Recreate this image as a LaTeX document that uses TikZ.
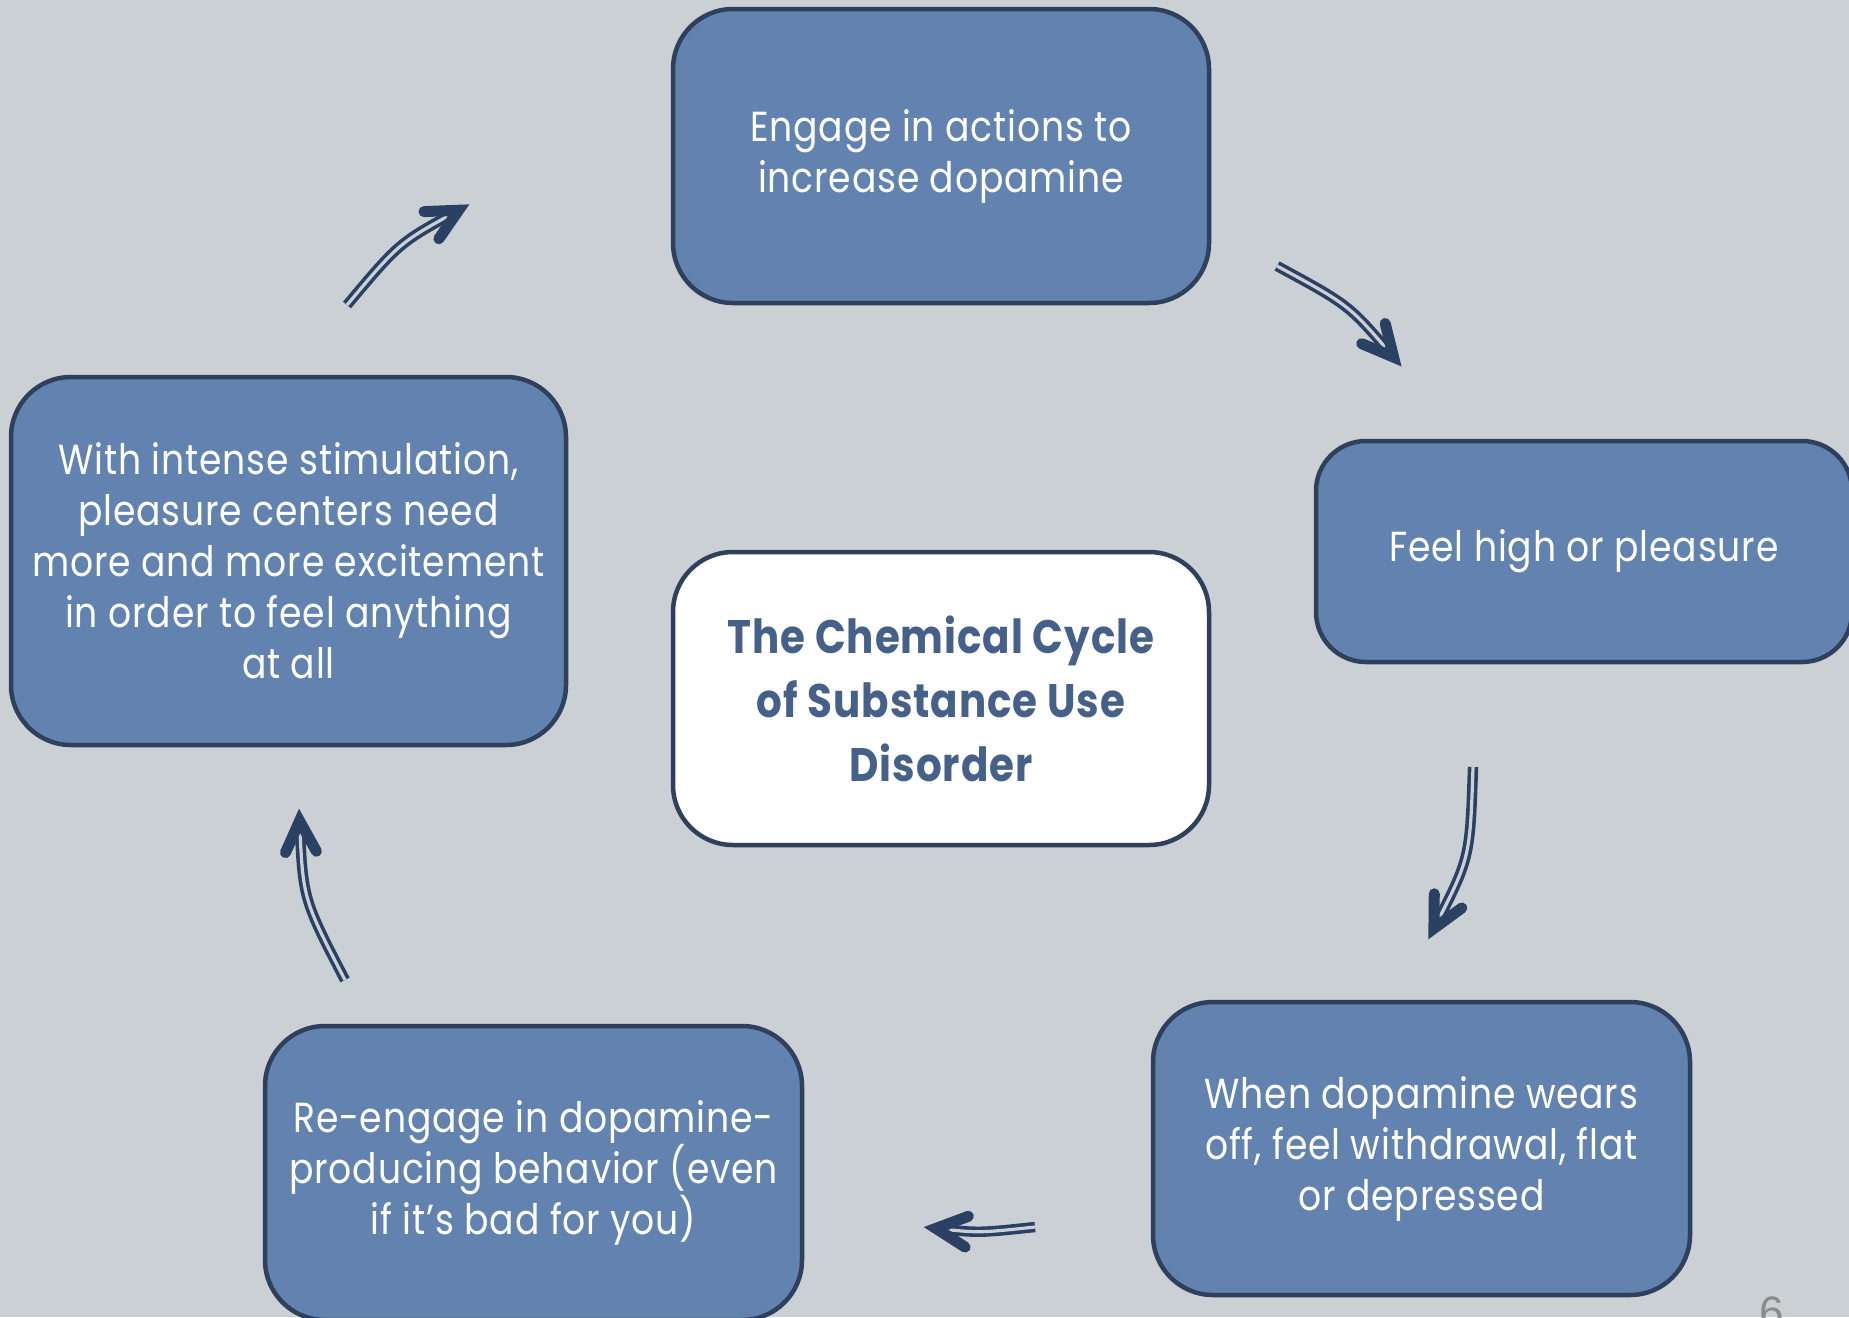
\documentclass[tikz,border=0pt]{standalone}
\usepackage{fontspec}
\setmainfont{Poppins}[FakeStretch=0.86,LetterSpace=2]
\newfontfamily\numfont{Liberation Sans}
\usetikzlibrary{decorations.markings}
\definecolor{bgcol}{HTML}{CBD0D5}
\definecolor{boxcol}{HTML}{6283AF}
\definecolor{bordercol}{HTML}{2E405C}
\definecolor{arrowcol}{HTML}{2B4163}
\definecolor{titlecol}{HTML}{45618A}
\definecolor{numcol}{HTML}{8A8A8A}
\begin{document}
\begin{tikzpicture}[x=1pt,y=-1pt,
  box/.style={draw=bordercol, fill=boxcol, line width=4.5pt, rounded corners=60pt,
    minimum width=536pt, minimum height=294pt, align=center, text=white,
    font=\fontsize{42}{51}\selectfont, inner sep=0pt},
  titlebox/.style={box, fill=white, text=titlecol, font=\fontsize{47}{64}\selectfont\bfseries},
  shaft/.style={draw=arrowcol, line width=3.6pt, double=bgcol, double distance=3.2pt, shorten >=15pt},
  headmark/.style={decorate, decoration={markings, mark=at position 1 with {
    \draw[arrowcol, line width=11pt, line cap=round, line join=miter]
      (-44,-15.5) -- (-13,0) -- (-44,15.5);}}}
]
\useasboundingbox (0,0) rectangle (1849,1317);
\fill[bgcol] (0,0) rectangle (1849,1317);

\node[box] (top) at (941,156) {Engage in actions to\\increase dopamine};
\node[box, minimum height=221pt, rounded corners=50pt] (right) at (1584,551.5) {Feel high or pleasure};
\node[titlebox, minimum height=293pt] (center) at (941,698.5) {The Chemical Cycle\\of Substance Use\\Disorder};
\node[box, minimum width=555pt, minimum height=368pt] (left) at (288.5,561) {With intense stimulation,\\pleasure centers need\\more and more excitement\\in order to feel anything\\at all};
\node[box, minimum width=537pt, minimum height=293pt] (br) at (1421.5,1148.5) {When dopamine wears\\off, feel withdrawal, flat\\or depressed};
\node[box, minimum width=537pt] (bl) at (533.5,1173) {Re-engage in dopamine-\\producing behavior (even\\if it’s bad for you)};

\node[anchor=north west, inner sep=0pt, text=numcol, font=\numfont\fontsize{44}{44}\selectfont] (pnum) at (1759,1297) {6};

\coordinate (a1s) at (347,305); \coordinate (a1e) at (470,204);
\coordinate (a2s) at (1277,266); \coordinate (a2e) at (1402,367);
\coordinate (a3s) at (1473,767); \coordinate (a3e) at (1428,940);
\coordinate (a4s) at (1035,1227); \coordinate (a4e) at (923,1227);
\coordinate (a5s) at (345,980); \coordinate (a5e) at (299,808);

\draw[shaft] (a1s) .. controls (399,243) .. (a1e);
\path[headmark] (a1s) .. controls (399,243) .. (a1e);
\draw[shaft] (a2s) .. controls (1349,305) .. (a2e);
\path[headmark] (a2s) .. controls (1349,305) .. (a2e);
\draw[shaft] (a3s) .. controls (1470,858) .. (a3e);
\path[headmark] (a3s) .. controls (1470,858) .. (a3e);
\draw[shaft] (a4s) .. controls (979,1233) .. (a4e);
\path[headmark] (a4s) .. controls (979,1233) .. (a4e);
\draw[shaft] (a5s) .. controls (303,899) .. (a5e);
\path[headmark] (a5s) .. controls (303,899) .. (a5e);
\end{tikzpicture}
\end{document}
